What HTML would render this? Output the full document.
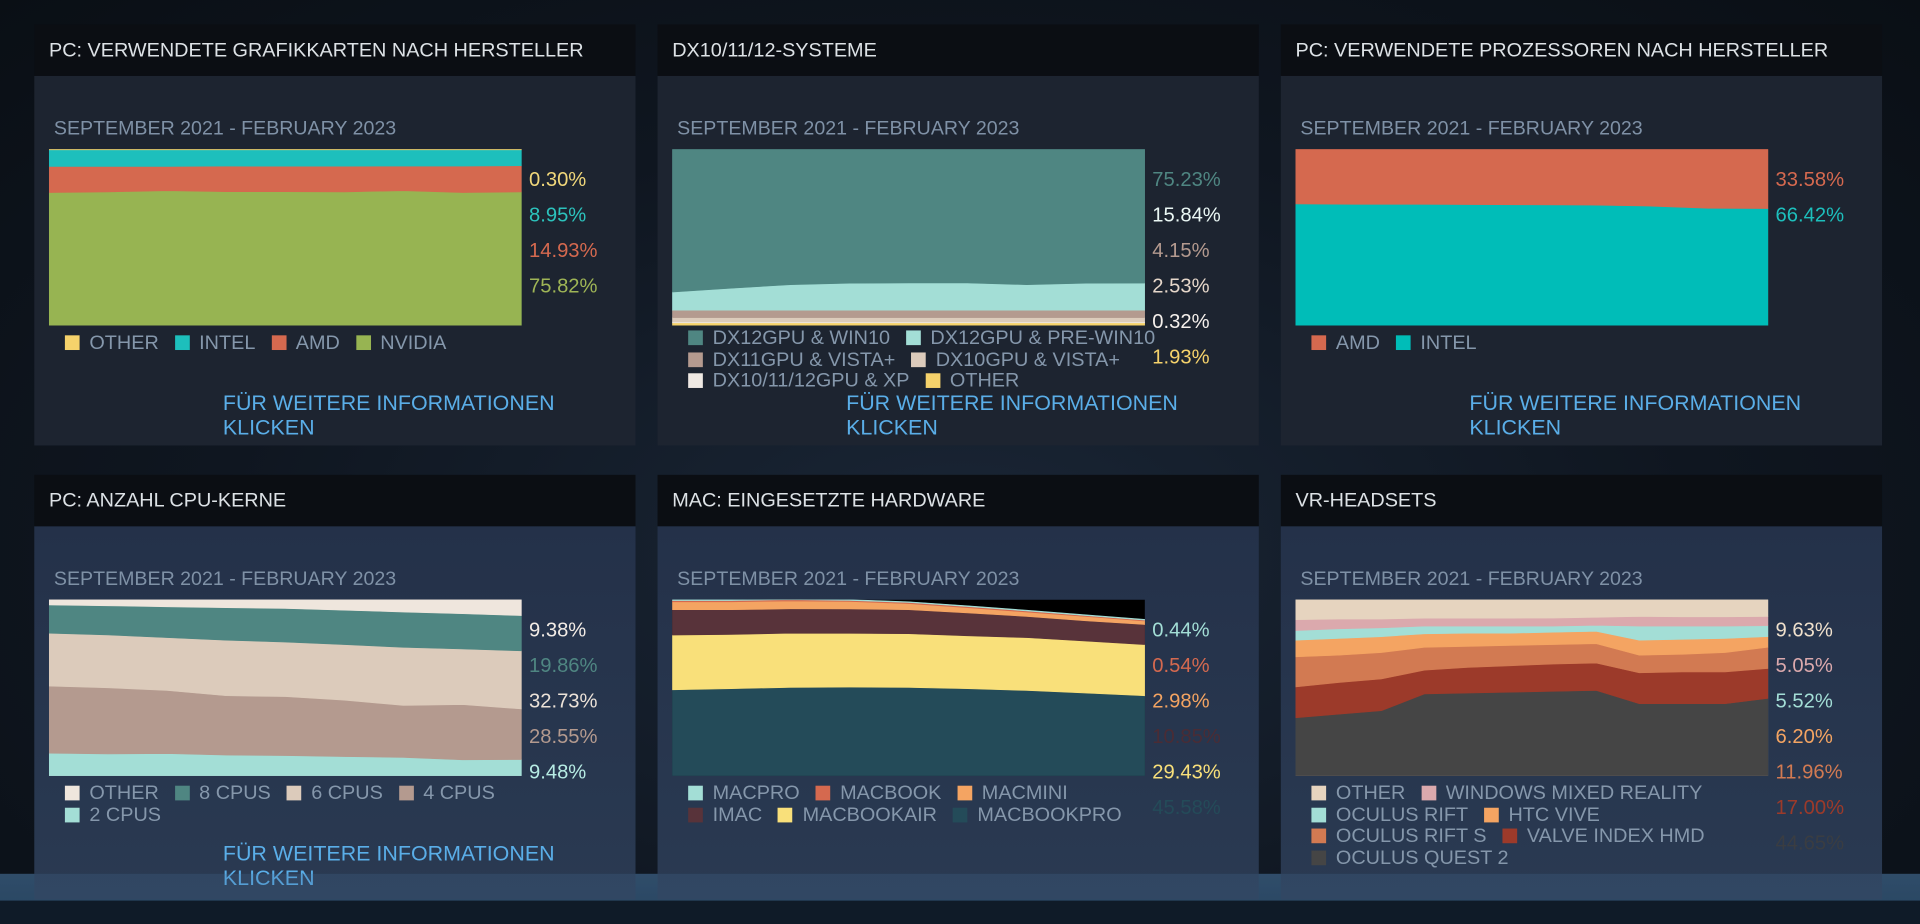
<!DOCTYPE html>
<html><head><meta charset="utf-8">
<style>
html,body{margin:0;padding:0;width:1920px;height:924px;overflow:hidden;background:#0c1219;}
#stage{position:absolute;left:0;top:0;width:1568px;height:755px;transform:scale(1.22449,1.22384);transform-origin:0 0;
 background:radial-gradient(ellipse at 50% 60%,#1a2636 0%,#0f1620 55%,#0a0f15 100%);font-family:"Liberation Sans",sans-serif;}
.band{position:absolute;left:0;top:714px;width:1568px;height:22px;background:linear-gradient(#2b4661,#24405a);opacity:.9}
.bandover{position:absolute;left:0;top:714px;width:1568px;height:22px;background:rgba(70,110,150,.25);z-index:5}
.band2{position:absolute;left:0;top:736px;width:1568px;height:19px;background:#0f1b28;z-index:6}
.panel{position:absolute;width:491px;}
.hdr{position:absolute;left:0;top:0;width:491px;height:42px;background:#0b0e13;color:#dde2e6;font-size:16.2px;line-height:42px;padding-left:12px;box-sizing:border-box;white-space:nowrap}
.body{position:absolute;left:0;top:42px;width:491px;height:302px;background:#1d2430}
.row2 .body{height:305px;background:linear-gradient(#243149,#2a3a52)}
.sub{position:absolute;left:16px;top:78px;color:#7f91a6;font-size:16px;line-height:16px;white-space:nowrap}
.chart{position:absolute;left:12px;top:102px;width:386px;height:144px}
.lbl{position:absolute;left:404px;font-size:16.5px;line-height:18px;white-space:nowrap}
.leg{position:absolute;left:25px;font-size:16.2px;color:#8597ab;white-space:nowrap;line-height:17.5px}
.leg span.it{margin-right:13px;display:inline-block}
.leg i{display:inline-block;width:12px;height:12px;margin-right:8px;vertical-align:-1px}
.link{position:absolute;left:154px;top:300px;color:#5aaee8;font-size:17.5px;line-height:19.5px}
</style></head><body>
<div id="stage">
<div class="band"></div>
<div class="bandover"></div>
<div class="band2"></div>

<!-- Panel 1 -->
<div class="panel" style="left:28px;top:20px">
 <div class="body"></div>
 <div class="hdr">PC: VERWENDETE GRAFIKKARTEN NACH HERSTELLER</div>
 <div class="sub">SEPTEMBER 2021 - FEBRUARY 2023</div>
 <svg class="chart" id="c1"></svg>
 <div class="lbl" style="top:118px;color:#f0d77a">0.30%</div>
 <div class="lbl" style="top:147px;color:#2cc3bd">8.95%</div>
 <div class="lbl" style="top:176px;color:#d5694f">14.93%</div>
 <div class="lbl" style="top:205px;color:#9fb556">75.82%</div>
 <div class="leg" style="top:252px">
  <span class="it"><i style="background:#f5d26b"></i>OTHER</span><span class="it"><i style="background:#1dbfbc"></i>INTEL</span><span class="it"><i style="background:#d5694f"></i>AMD</span><span class="it"><i style="background:#97b452"></i>NVIDIA</span>
 </div>
 <div class="link">FÜR WEITERE INFORMATIONEN<br>KLICKEN</div>
</div>

<!-- Panel 2 -->
<div class="panel" style="left:537px;top:20px">
 <div class="body"></div>
 <div class="hdr">DX10/11/12-SYSTEME</div>
 <div class="sub">SEPTEMBER 2021 - FEBRUARY 2023</div>
 <svg class="chart" id="c2"></svg>
 <div class="lbl" style="top:118px;color:#4f8682">75.23%</div>
 <div class="lbl" style="top:147px;color:#eaf7f4">15.84%</div>
 <div class="lbl" style="top:176px;color:#b49a8f">4.15%</div>
 <div class="lbl" style="top:205px;color:#e6d7ca">2.53%</div>
 <div class="lbl" style="top:234px;color:#f5f0ec">0.32%</div>
 <div class="lbl" style="top:263px;color:#f5d26b">1.93%</div>
 <div class="leg" style="top:248px">
  <div><span class="it"><i style="background:#4f8682"></i>DX12GPU &amp; WIN10</span><span class="it"><i style="background:#a3ded6"></i>DX12GPU &amp; PRE-WIN10</span></div>
  <div><span class="it"><i style="background:#b49a8f"></i>DX11GPU &amp; VISTA+</span><span class="it"><i style="background:#dccbbb"></i>DX10GPU &amp; VISTA+</span></div>
  <div><span class="it"><i style="background:#efe9e3"></i>DX10/11/12GPU &amp; XP</span><span class="it"><i style="background:#f5d26b"></i>OTHER</span></div>
 </div>
 <div class="link">FÜR WEITERE INFORMATIONEN<br>KLICKEN</div>
</div>

<!-- Panel 3 -->
<div class="panel" style="left:1046px;top:20px">
 <div class="body"></div>
 <div class="hdr">PC: VERWENDETE PROZESSOREN NACH HERSTELLER</div>
 <div class="sub">SEPTEMBER 2021 - FEBRUARY 2023</div>
 <svg class="chart" id="c3"></svg>
 <div class="lbl" style="top:118px;color:#d5694f">33.58%</div>
 <div class="lbl" style="top:147px;color:#1dbfbc">66.42%</div>
 <div class="leg" style="top:252px">
  <span class="it"><i style="background:#d5694f"></i>AMD</span><span class="it"><i style="background:#00bdb8"></i>INTEL</span>
 </div>
 <div class="link">FÜR WEITERE INFORMATIONEN<br>KLICKEN</div>
</div>

<!-- Panel 4 -->
<div class="panel row2" style="left:28px;top:388px">
 <div class="body"></div>
 <div class="hdr">PC: ANZAHL CPU-KERNE</div>
 <div class="sub">SEPTEMBER 2021 - FEBRUARY 2023</div>
 <svg class="chart" id="c4"></svg>
 <div class="lbl" style="top:118px;color:#f3ece6">9.38%</div>
 <div class="lbl" style="top:147px;color:#4f8682">19.86%</div>
 <div class="lbl" style="top:176px;color:#ece2d8">32.73%</div>
 <div class="lbl" style="top:205px;color:#b49a8f">28.55%</div>
 <div class="lbl" style="top:234px;color:#b7ece4">9.48%</div>
 <div class="leg" style="top:252px">
  <div><span class="it"><i style="background:#efe6dd"></i>OTHER</span><span class="it"><i style="background:#4f8682"></i>8 CPUS</span><span class="it"><i style="background:#dccbbb"></i>6 CPUS</span><span class="it"><i style="background:#b49a8f"></i>4 CPUS</span></div>
  <div><span class="it"><i style="background:#a3ded6"></i>2 CPUS</span></div>
 </div>
 <div class="link">FÜR WEITERE INFORMATIONEN<br>KLICKEN</div>
</div>

<!-- Panel 5 -->
<div class="panel row2" style="left:537px;top:388px">
 <div class="body"></div>
 <div class="hdr">MAC: EINGESETZTE HARDWARE</div>
 <div class="sub">SEPTEMBER 2021 - FEBRUARY 2023</div>
 <svg class="chart" id="c5"></svg>
 <div class="lbl" style="top:118px;color:#a3ded6">0.44%</div>
 <div class="lbl" style="top:147px;color:#d5694f">0.54%</div>
 <div class="lbl" style="top:176px;color:#f4a462">2.98%</div>
 <div class="lbl" style="top:205px;color:#4a2c35">10.85%</div>
 <div class="lbl" style="top:234px;color:#f9e07a">29.43%</div>
 <div class="lbl" style="top:263px;color:#244b59">45.58%</div>
 <div class="leg" style="top:252px">
  <div><span class="it"><i style="background:#a3ded6"></i>MACPRO</span><span class="it"><i style="background:#d5694f"></i>MACBOOK</span><span class="it"><i style="background:#f4a462"></i>MACMINI</span></div>
  <div><span class="it"><i style="background:#58333a"></i>IMAC</span><span class="it"><i style="background:#f9e07a"></i>MACBOOKAIR</span><span class="it"><i style="background:#244b59"></i>MACBOOKPRO</span></div>
 </div>
</div>

<!-- Panel 6 -->
<div class="panel row2" style="left:1046px;top:388px">
 <div class="body"></div>
 <div class="hdr">VR-HEADSETS</div>
 <div class="sub">SEPTEMBER 2021 - FEBRUARY 2023</div>
 <svg class="chart" id="c6"></svg>
 <div class="lbl" style="top:118px;color:#efe0cc">9.63%</div>
 <div class="lbl" style="top:147px;color:#dba9ad">5.05%</div>
 <div class="lbl" style="top:176px;color:#a3ded6">5.52%</div>
 <div class="lbl" style="top:205px;color:#f4a462">6.20%</div>
 <div class="lbl" style="top:234px;color:#d27a52">11.96%</div>
 <div class="lbl" style="top:263px;color:#9c3a2a">17.00%</div>
 <div class="lbl" style="top:292px;color:#3a3d42">44.65%</div>
 <div class="leg" style="top:252px">
  <div><span class="it"><i style="background:#e6d4bf"></i>OTHER</span><span class="it"><i style="background:#dba9ad"></i>WINDOWS MIXED REALITY</span></div>
  <div><span class="it"><i style="background:#a3ded6"></i>OCULUS RIFT</span><span class="it"><i style="background:#f4a462"></i>HTC VIVE</span></div>
  <div><span class="it"><i style="background:#d27a52"></i>OCULUS RIFT S</span><span class="it"><i style="background:#9c3a2a"></i>VALVE INDEX HMD</span></div>
  <div><span class="it"><i style="background:#454545"></i>OCULUS QUEST 2</span></div>
 </div>
</div>
</div>

<script>
// Series listed bottom -> top, values in percent
const gpuNvidia=[75.5,75.8,76.5,76,76,75.8,76.5,75.5,75.8];
const gpuAmd=[14.8,14.5,13.8,14.5,14.4,14.6,14,15,14.9];
const gpuIntel=[9.4,9.4,9.4,9.2,9.3,9.3,9.2,9.2,9.0];
const gpuOther=[0.3,0.3,0.3,0.3,0.3,0.3,0.3,0.3,0.3];

const dxOther=[1.5,1.5,1.5,1.5,1.5,1.5,1.5,1.5,1.5];
const dxXp=[0.5,0.5,0.5,0.5,0.5,0.5,0.5,0.5,0.5];
const dxDx10=[2.5,2.5,2.5,2.5,2.5,2.5,2.5,2.5,2.5];
const dxDx11=[4.2,4.2,4.2,4.2,4.2,4.2,4.2,4.2,4.2];
const dxPre=[10.3,12.5,14.5,15.3,15.5,15.5,14.5,15.3,15.4];
const dxWin10=[81,78.8,76.8,76,75.8,75.8,76.8,76,75.9];

const cpuIntel=[69,68.8,68.8,68.6,68.5,68.3,67.8,66.5,66.4];
const cpuAmd=[31,31.2,31.2,31.4,31.5,31.7,32.2,33.5,33.6];

const core2=[12.9,12.5,12.7,11.8,11.5,11,10.5,9.2,9.3];
const core4=[38.1,37.5,35.8,33.7,33.5,32,29.5,31.3,28.7];
const core6=[30,30,30,31.5,31,31.5,33,31.5,33];
const core8=[16,16.5,17.5,18.5,19,19.5,20,20,20];
const coreOther=[3,3.5,4,4.5,5,6,7,8,9];

const macPro13=[48.9,49.5,50.2,50.4,50.2,49.5,48.5,47,45.5];
const macAir=[31,30.8,30.8,30.5,30.5,30,30,29.5,29];
const macImac=[14.4,14,13.8,13.8,13.6,13,12,11.5,11.4];
const macMini=[4.5,4.5,4.5,4.3,3.5,3,2.5,2.5,2];
const macBook=[0.7,0.7,0.7,0.6,0.6,0.6,0.6,0.5,0.5];
const macProDesk=[0.5,0.5,0.5,0.4,0.4,0.4,0.4,0.4,0.4];

const vrQuest2=[33,35,37,46.5,47,47.5,48,48.5,41,41,41,44];
const vrValve=[17.5,18,18,13.5,14.5,15,15.5,15.5,17.5,18,18,17];
const vrRiftS=[17.1,15.5,15,13,12,11.5,11,11,10,10,11,12];
const vrHtc=[9.4,9.5,9,7.6,7.5,7,7,7,8.5,8.5,8,6];
const vrRift=[5.5,5.5,5,4.4,4,4,3.5,3.5,8,7.5,7,6.2];
const vrWmr=[6.1,5.5,5,4.5,4.5,4.5,4.6,4.5,5.5,5.3,5.3,5.3];
const vrOther=[11.4,11,11,10.5,10.5,10.5,10.4,10,9.5,9.7,9.7,9.5];

const W=386,H=144,NS="http://www.w3.org/2000/svg";
function xS(i,n){return i/(n-1)*W;}
function yS(v){return H-v/100*H;}
function draw(id,bg,series,colors,names){
  const svg=document.getElementById(id);
  svg.setAttribute('viewBox','0 0 '+W+' '+H);
  const r=document.createElementNS(NS,'rect');
  r.setAttribute('width',W);r.setAttribute('height',H);r.setAttribute('fill',bg);
  
  
  svg.appendChild(r);
  const n=series[0].length;
  let base=new Array(n).fill(0);
  series.forEach((s,k)=>{
    const top=base.map((b,i)=>b+s[i]);
    let d='';
    for(let i=0;i<n;i++) d+=(i?'L':'M')+xS(i,n).toFixed(1)+','+yS(top[i]).toFixed(1);
    for(let i=n-1;i>=0;i--) d+='L'+xS(i,n).toFixed(1)+','+yS(base[i]).toFixed(1);
    const p=document.createElementNS(NS,'path');
    p.setAttribute('d',d+'Z');p.setAttribute('fill',colors[k]);
    p.setAttribute('stroke',colors[k]);p.setAttribute('stroke-width','0.5');
    
    
    svg.appendChild(p);
    base=top;
  });
}
draw('c1','#1dbfbc',[gpuNvidia,gpuAmd,gpuIntel,gpuOther],['#97b452','#d5694f','#1dbfbc','#f5d26b'],['area-nvidia','area-amd','area-intel','area-other']);
draw('c2','#4f8682',[dxOther,dxXp,dxDx10,dxDx11,dxPre,dxWin10],['#f5d26b','#efe9e3','#dccbbb','#b49a8f','#a3ded6','#4f8682'],['area-other','area-xp','area-dx10','area-dx11','area-dx12-prewin10','area-dx12-win10']);
draw('c3','#d5694f',[cpuIntel,cpuAmd],['#00bdb8','#d5694f'],['area-intel','area-amd']);
draw('c4','#efe6dd',[core2,core4,core6,core8,coreOther],['#a3ded6','#b49a8f','#dccbbb','#4f8682','#efe6dd'],['area-2cpus','area-4cpus','area-6cpus','area-8cpus','area-other']);
draw('c5','#000000',[macPro13,macAir,macImac,macMini,macBook,macProDesk],['#244b59','#f9e07a','#58333a','#f4a462','#d5694f','#a3ded6'],['area-macbookpro','area-macbookair','area-imac','area-macmini','area-macbook','area-macpro']);
draw('c6','#e6d4bf',[vrQuest2,vrValve,vrRiftS,vrHtc,vrRift,vrWmr,vrOther],['#454545','#9c3a2a','#d27a52','#f4a462','#a3ded6','#dba9ad','#e6d4bf'],['area-quest2','area-valve-index','area-rift-s','area-htc-vive','area-rift','area-wmr','area-other']);
</script>
</body></html>
